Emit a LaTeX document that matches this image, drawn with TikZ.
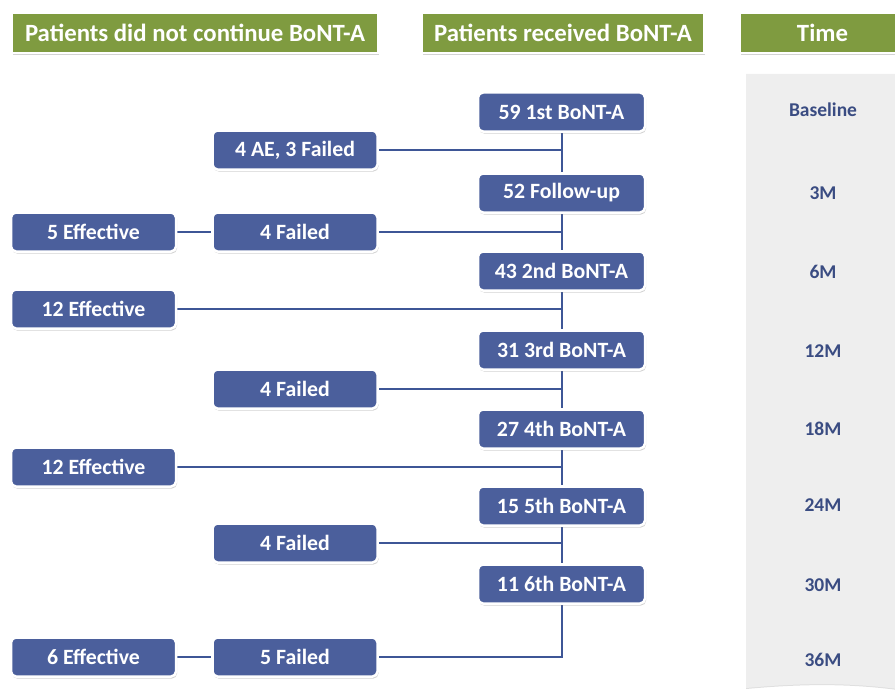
\documentclass[tikz,border=0pt]{standalone}
\usepackage{fontspec}
\setmainfont{Carlito}
\usetikzlibrary{shadows,backgrounds}
\definecolor{hgreen}{RGB}{127,155,64}
\definecolor{bblue}{RGB}{75,95,156}
\definecolor{lblue}{RGB}{62,86,150}
\definecolor{tblue}{RGB}{58,76,130}
\definecolor{panel}{RGB}{238,238,238}
\tikzset{
  hdr/.style={fill=hgreen, draw=white, line width=2pt, minimum height=40pt, inner sep=0pt,
    text=white, font=\bfseries\fontsize{24.8}{28}\selectfont,
    drop shadow={shadow xshift=1pt, shadow yshift=-2pt, opacity=0.35}},
  bx/.style={fill=bblue, draw=white, line width=2.5pt, rounded corners=5pt, inner sep=0pt,
    minimum height=39pt, text=white, font=\bfseries\fontsize{21.8}{26}\selectfont,
    drop shadow={shadow xshift=1pt, shadow yshift=-2pt, opacity=0.35}},
  midbx/.style={bx, minimum width=167pt},
  lbx/.style={bx, minimum width=165pt},
  conn/.style={draw=lblue, line width=2pt},
  tlab/.style={text=tblue, font=\bfseries\fontsize{19.5}{24}\selectfont}
}
\begin{document}
\begin{tikzpicture}[x=1pt,y=-1pt]
\useasboundingbox (0,0) rectangle (895,693);
% headers
\node[hdr, minimum width=366pt] (h1) at (195,33) {Patients did not continue BoNT-A};
\node[hdr, minimum width=282pt] (h2) at (563,33) {Patients received BoNT-A};
\node[hdr, minimum width=165pt] (h3) at (822.5,33) {Time};
% time panel
\path[fill=panel, drop shadow={shadow xshift=0pt, shadow yshift=-1pt, opacity=0.25}]
  (746,74) -- (905,74) -- (905,690) .. controls (850,682) and (800,683) .. (746,688) -- cycle;
\node[tlab] (t0) at (823,110) {Baseline};
\node[tlab] (t1) at (823,193) {3M};
\node[tlab] (t2) at (823,272) {6M};
\node[tlab] (t3) at (823,351) {12M};
\node[tlab] (t4) at (823,429) {18M};
\node[tlab] (t5) at (823,505) {24M};
\node[tlab] (t6) at (823,585) {30M};
\node[tlab] (t7) at (823,660) {36M};
% middle column
\node[midbx] (m1) at (561.5,112) {59 1st BoNT-A};
\node[midbx] (m2) at (561.5,193) {52 Follow-up};
\node[midbx] (m3) at (561.5,271) {43 2nd BoNT-A};
\node[midbx] (m4) at (561.5,350) {31 3rd BoNT-A};
\node[midbx] (m5) at (561.5,429) {27 4th BoNT-A};
\node[midbx] (m6) at (561.5,506) {15 5th BoNT-A};
\node[midbx] (m7) at (561.5,584) {11 6th BoNT-A};
% left columns
\node[lbx] (a1) at (295,150) {4 AE, 3 Failed};
\node[lbx] (e1) at (93.5,232) {5 Effective};
\node[lbx] (f1) at (295,232) {4 Failed};
\node[lbx] (e2) at (93.5,309) {12 Effective};
\node[lbx] (f2) at (295,389) {4 Failed};
\node[lbx] (e3) at (93.5,467) {12 Effective};
\node[lbx] (f3) at (295,543) {4 Failed};
\node[lbx] (e4) at (93.5,657) {6 Effective};
\node[lbx] (f4) at (295,657) {5 Failed};
% connectors
\begin{scope}[on background layer]
\draw[conn] (m1.south) -- (m2.north);
\draw[conn] (m2.south) -- (m3.north);
\draw[conn] (m3.south) -- (m4.north);
\draw[conn] (m4.south) -- (m5.north);
\draw[conn] (m5.south) -- (m6.north);
\draw[conn] (m6.south) -- (m7.north);
\draw[conn] (m7.south) |- (f4.east);
\draw[conn] (a1.east) -- (a1.east -| m1.south);
\draw[conn] (f1.east) -- (f1.east -| m2.south);
\draw[conn] (e1.east) -- (f1.west);
\draw[conn] (e2.east) -- (e2.east -| m3.south);
\draw[conn] (f2.east) -- (f2.east -| m4.south);
\draw[conn] (e3.east) -- (e3.east -| m5.south);
\draw[conn] (f3.east) -- (f3.east -| m6.south);
\draw[conn] (e4.east) -- (f4.west);
\end{scope}
\end{tikzpicture}
\end{document}
